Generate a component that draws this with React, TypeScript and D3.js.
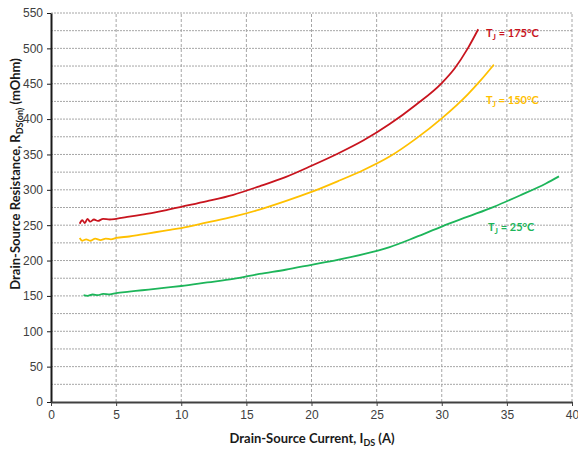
import React, { useEffect, useRef } from "react";
import * as d3 from "d3";

const xTicks = [0, 5, 10, 15, 20, 25, 30, 35, 40];
const yTicks = [0, 50, 100, 150, 200, 250, 300, 350, 400, 450, 500, 550];
const yGrid = d3.range(0, 551, 25);

const currentT175 = [2.2, 2.4, 2.6, 2.8, 3.0, 3.3, 3.6, 4.0, 4.5, 5, 6, 7, 8, 9, 10, 12, 14, 16, 18, 20, 22, 24, 26, 28, 30, 31, 32, 32.8];
const rdsT175 = [252, 257, 253, 259, 255, 258, 256, 259, 258, 259, 262, 265, 268, 272, 276, 284, 293, 305, 318, 334, 351, 370, 393, 420, 451, 472, 500, 527];

const currentT150 = [2.2, 2.4, 2.7, 3, 3.4, 3.8, 4.2, 4.6, 5, 6, 7, 8, 9, 10, 12, 14, 16, 18, 20, 22, 24, 26, 28, 30, 32, 33, 34];
const rdsT150 = [232, 228, 230, 228, 231, 229, 231, 230, 232, 234, 237, 240, 243, 246, 254, 262, 272, 284, 297, 312, 328, 347, 372, 401, 435, 455, 477];

const currentT25 = [2.5, 2.8, 3.2, 3.6, 4, 4.5, 5, 6, 7, 8, 9, 10, 12, 14, 16, 18, 20, 22, 24, 26, 28, 30, 32, 34, 36, 38, 39];
const rdsT25 = [151, 150, 152, 151, 153, 152, 154, 156, 158, 160, 162, 164, 169, 174, 181, 187, 194, 201, 209, 219, 233, 248, 262, 276, 292, 309, 319];

const series = [
  { temp: "175°C", x: currentT175, y: rdsT175, color: "#C8141E", lx: 486, ly: 37 },
  { temp: "150°C", x: currentT150, y: rdsT150, color: "#FFC000", lx: 486, ly: 104 },
  { temp: "25°C", x: currentT25, y: rdsT25, color: "#1DB55A", lx: 488, ly: 231 },
];

const W = 578;
const H = 450;
const margin = { top: 13, right: 6, bottom: 48, left: 51 };

const App = () => {
  const svgRef = useRef<SVGSVGElement>(null);

  useEffect(() => {
    const svg = d3.select(svgRef.current);
    svg.selectAll("*").remove();

    const x = d3.scaleLinear().domain([0, 40]).range([margin.left, W - margin.right]);
    const y = d3.scaleLinear().domain([0, 550]).range([H - margin.bottom, margin.top]);

    svg.append("rect").attr("width", W).attr("height", H).attr("fill", "#fff");

    // grid
    svg
      .append("g")
      .selectAll("line")
      .data(yGrid.filter((d) => d > 0))
      .join("line")
      .attr("x1", x(0))
      .attr("x2", x(40))
      .attr("y1", (d) => y(d))
      .attr("y2", (d) => y(d))
      .attr("stroke", "#a6a6a6")
      .attr("stroke-dasharray", "2,1");
    svg
      .append("g")
      .selectAll("line")
      .data(xTicks.filter((d) => d > 0))
      .join("line")
      .attr("x1", (d) => x(d))
      .attr("x2", (d) => x(d))
      .attr("y1", y(0))
      .attr("y2", y(550))
      .attr("stroke", "#a6a6a6")
      .attr("stroke-dasharray", "3,2");

    // axes
    const left = svg
      .append("g")
      .attr("transform", `translate(${x(0)},0)`)
      .call(d3.axisLeft(y).tickValues(yTicks).tickSize(4).tickPadding(4).tickSizeOuter(0));
    left.select(".domain").attr("stroke", "#1a1a1a").attr("stroke-width", 2);
    left.selectAll("line").attr("stroke", "#1a1a1a");
    left
      .selectAll("text")
      .style("font-family", "'Liberation Sans', Arial, sans-serif")
      .style("font-size", "12px")
      .attr("fill", "#404040");

    const bottom = svg
      .append("g")
      .attr("transform", `translate(0,${y(0)})`)
      .call(d3.axisBottom(x).tickValues(xTicks).tickSize(4).tickPadding(4).tickSizeOuter(0));
    bottom.select(".domain").attr("stroke", "#404040").attr("stroke-width", 2);
    bottom.selectAll("line").attr("stroke", "#404040");
    bottom
      .selectAll("text")
      .style("font-family", "'Liberation Sans', Arial, sans-serif")
      .style("font-size", "12px")
      .attr("fill", "#404040");

    // curves
    const line = d3
      .line<[number, number]>()
      .x((d) => x(d[0]))
      .y((d) => y(d[1]))
      .curve(d3.curveMonotoneX);

    series.forEach((s) => {
      const pts = s.x.map((v, i) => [v, s.y[i]] as [number, number]);
      svg
        .append("path")
        .attr("d", line(pts))
        .attr("fill", "none")
        .attr("stroke", s.color)
        .attr("stroke-width", 1.8);

      const t = svg
        .append("text")
        .attr("x", s.lx)
        .attr("y", s.ly)
        .attr("fill", s.color)
        .style("font-family", "Lato, 'Open Sans', sans-serif")
        .style("font-weight", "bold")
        .style("font-size", "11px");
      t.append("tspan").text("T");
      t.append("tspan").attr("dy", 3).style("font-size", "8px").text("J");
      t.append("tspan").attr("dy", -3).text(` = ${s.temp}`);
    });

    // axis titles
    const xt = svg
      .append("text")
      .attr("x", 312)
      .attr("y", 443)
      .attr("text-anchor", "middle")
      .attr("fill", "#1a1a1a")
      .style("font-family", "Lato, 'Open Sans', sans-serif")
      .style("font-weight", "bold")
      .style("font-size", "13px");
    xt.append("tspan").text("Drain-Source Current, I");
    xt.append("tspan").attr("dy", 3).style("font-size", "9px").text("DS");
    xt.append("tspan").attr("dy", -3).text(" (A)");

    const yt = svg
      .append("text")
      .attr("transform", "translate(20,174) rotate(-90)")
      .attr("text-anchor", "middle")
      .attr("fill", "#1a1a1a")
      .style("font-family", "Lato, 'Open Sans', sans-serif")
      .style("font-weight", "bold")
      .style("font-size", "13px");
    yt.append("tspan").text("Drain-Source Resistance, R");
    yt.append("tspan").attr("dy", 3).style("font-size", "9px").text("DS(on)");
    yt.append("tspan").attr("dy", -3).text(" (mOhm)");
  }, []);

  return (
    <svg
      ref={svgRef}
      width={W}
      height={H}
      style={{ position: "absolute", left: 0, top: 0, display: "block" }}
    />
  );
};

export default App;
